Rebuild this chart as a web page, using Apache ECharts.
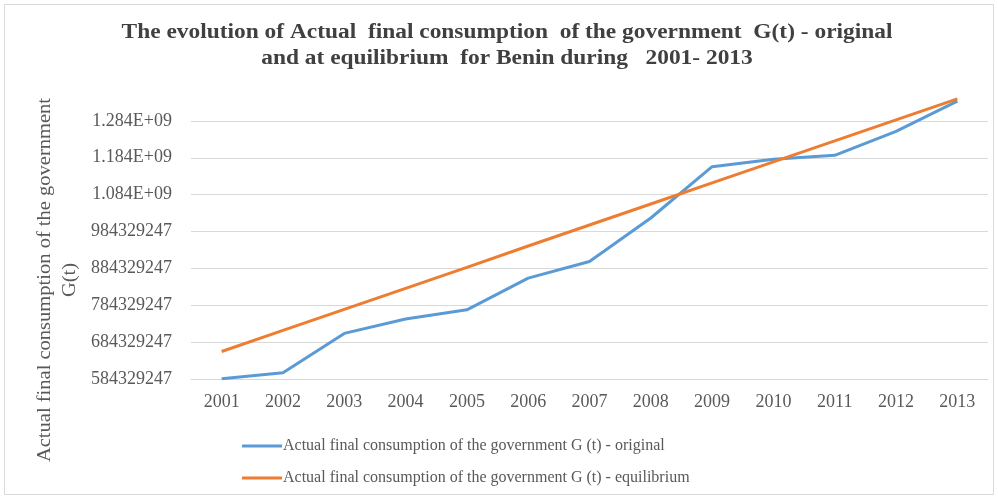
<!DOCTYPE html>
<html>
<head>
<meta charset="utf-8">
<script src="https://cdn.jsdelivr.net/npm/echarts@6/dist/echarts.min.js"></script>
<style>
  html, body { margin: 0; padding: 0; background: #fff; }
  #main { width: 998px; height: 499px; }
</style>
</head>
<body>
<div id="main"></div>
<script>
// years on the x axis
var years = ['2001', '2002', '2003', '2004', '2005', '2006', '2007',
  '2008', '2009', '2010', '2011', '2012', '2013'];

// G(t) original
var original = [585000000, 601000000, 708000000, 747000000, 772000000, 858000000,
  903000000, 1021000000, 1160000000, 1180000000, 1191000000, 1256000000, 1338000000];

// G(t) at equilibrium
var equilibrium = [659000000, 716000000, 773000000, 830000000, 887000000, 945000000,
  1002000000, 1059000000, 1116000000, 1173000000, 1230000000, 1287000000, 1344000000];

var yMin = 584329247;
var yStep = 100000000;
var yMax = yMin + 8 * yStep;

var seriesNames = [
  'Actual final consumption of the government G (t) - original',
  'Actual final consumption of the government G (t) - equilibrium'
];

var serif = '"Liberation Serif", "DejaVu Serif", serif';

var chart = echarts.init(document.getElementById('main'));

chart.setOption({
  backgroundColor: '#fff',
  animation: false,
  graphic: [{
    type: 'rect',
    shape: { x: 4.5, y: 4.5, width: 989, height: 490 },
    style: { fill: 'none', stroke: '#d9d9d9', lineWidth: 1 }
  }, {
    // title, stretched a little like the original
    type: 'text',
    x: 507,
    y: 46,
    scaleX: 1.17,
    style: {
      text: 'The evolution of Actual  final consumption  of the government  G(t) - original\nand at equilibrium  for Benin during   2001- 2013',
      fontFamily: serif,
      fontSize: 20,
      fontWeight: 'bold',
      lineHeight: 26,
      fill: '#404040',
      align: 'center',
      verticalAlign: 'middle'
    }
  }, {
    // y axis name
    type: 'text',
    x: 58,
    y: 280,
    rotation: Math.PI / 2,
    scaleX: 1.14,
    style: {
      text: 'Actual final consumption of the government\nG(t)',
      fontFamily: serif,
      fontSize: 18,
      lineHeight: 25,
      fill: '#595959',
      align: 'center',
      verticalAlign: 'middle'
    }
  }],
  grid: {
    left: 191,
    right: 10,
    top: 84,
    bottom: 120
  },
  legend: {
    orient: 'vertical',
    left: 237,
    top: 433,
    icon: 'rect',
    itemWidth: 40,
    itemHeight: 3,
    itemGap: 16,
    data: seriesNames,
    textStyle: {
      fontFamily: serif,
      fontSize: 16,
      color: '#595959',
      padding: [0, 0, 0, -4]
    }
  },
  xAxis: {
    type: 'category',
    data: years,
    boundaryGap: true,
    axisLine: { lineStyle: { color: '#d9d9d9', width: 1 } },
    axisTick: { show: false },
    axisLabel: {
      fontFamily: serif,
      fontSize: 18,
      color: '#595959',
      margin: 14
    }
  },
  yAxis: {
    type: 'value',
    min: yMin,
    max: yMax,
    interval: yStep,
    axisLine: { show: false },
    axisTick: { show: false },
    splitLine: {
      showMaxLine: false,
      lineStyle: { color: '#d9d9d9', width: 1 }
    },
    axisLabel: {
      showMaxLabel: false,
      fontFamily: serif,
      fontSize: 18,
      color: '#595959',
      margin: 19,
      formatter: function (v) {
        if (v >= 1e9) {
          return (v / 1e9).toFixed(3) + 'E+09';
        }
        return String(Math.round(v));
      }
    }
  },
  series: [{
    name: seriesNames[0],
    type: 'line',
    data: original,
    symbol: 'none',
    lineStyle: { color: '#5b9bd5', width: 3 },
    itemStyle: { color: '#5b9bd5' }
  }, {
    name: seriesNames[1],
    type: 'line',
    data: equilibrium,
    symbol: 'none',
    lineStyle: { color: '#ed7d31', width: 3 },
    itemStyle: { color: '#ed7d31' }
  }]
});
</script>
</body>
</html>
